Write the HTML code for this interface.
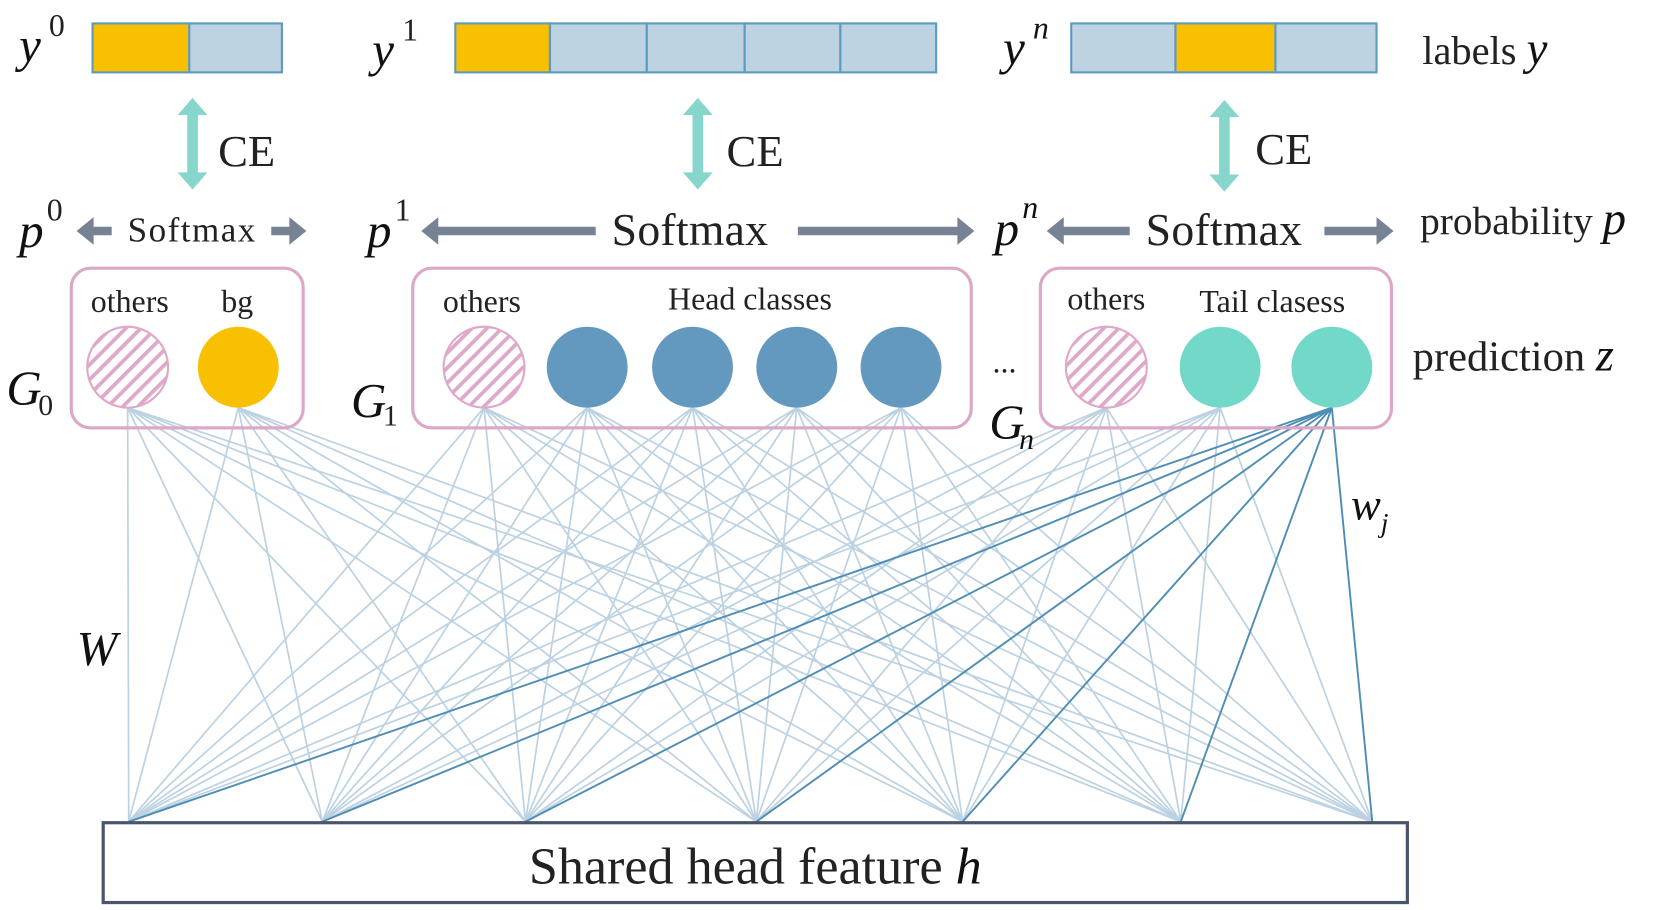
<!DOCTYPE html>
<html><head><meta charset="utf-8"><style>
html,body{margin:0;padding:0;background:#fff;width:1668px;height:910px;overflow:hidden}
svg{display:block}
text{font-family:"Liberation Serif","DejaVu Serif",serif;fill:#222}
.m{font-style:italic;fill:#111}
</style></head><body>
<svg width="1668" height="910" viewBox="0 0 1568 855" preserveAspectRatio="none" xmlns="http://www.w3.org/2000/svg" font-family="Liberation Serif, DejaVu Serif, serif">
<defs>
<pattern id="h" patternUnits="userSpaceOnUse" width="10" height="10" patternTransform="rotate(45)">
<rect width="10" height="10" fill="#fff"/><rect width="3.5" height="10" fill="#e0a8c8"/>
</pattern>
</defs>
<g stroke="#bcd2e2" stroke-width="1.6" fill="none">
<path d="M120 383L121 772M120 383L303 772M120 383L494 772M120 383L711 772M120 383L905 772M120 383L1110 772M120 383L1290 772"/>
<path d="M224 383L121 772M224 383L303 772M224 383L494 772M224 383L711 772M224 383L905 772M224 383L1110 772M224 383L1290 772"/>
<path d="M455 383L121 772M455 383L303 772M455 383L494 772M455 383L711 772M455 383L905 772M455 383L1110 772M455 383L1290 772"/>
<path d="M552 383L121 772M552 383L303 772M552 383L494 772M552 383L711 772M552 383L905 772M552 383L1110 772M552 383L1290 772"/>
<path d="M651 383L121 772M651 383L303 772M651 383L494 772M651 383L711 772M651 383L905 772M651 383L1110 772M651 383L1290 772"/>
<path d="M749 383L121 772M749 383L303 772M749 383L494 772M749 383L711 772M749 383L905 772M749 383L1110 772M749 383L1290 772"/>
<path d="M847 383L121 772M847 383L303 772M847 383L494 772M847 383L711 772M847 383L905 772M847 383L1110 772M847 383L1290 772"/>
<path d="M1040 383L121 772M1040 383L303 772M1040 383L494 772M1040 383L711 772M1040 383L905 772M1040 383L1110 772M1040 383L1290 772"/>
<path d="M1147 383L121 772M1147 383L303 772M1147 383L494 772M1147 383L711 772M1147 383L905 772M1147 383L1110 772M1147 383L1290 772"/>
</g>
<path stroke="#4f8db5" stroke-width="1.8" fill="none" d="M1252 383L121 772M1252 383L303 772M1252 383L494 772M1252 383L711 772M1252 383L905 772M1252 383L1110 772M1252 383L1290 772"/>

<g stroke="#5d9ac0" stroke-width="2">
<rect x="87" y="22" width="91" height="46" fill="#f8c000"/>
<rect x="178" y="22" width="87" height="46" fill="#bed3e2"/>
<rect x="428" y="22" width="89" height="46" fill="#f8c000"/>
<rect x="517" y="22" width="91" height="46" fill="#bed3e2"/>
<rect x="608" y="22" width="92" height="46" fill="#bed3e2"/>
<rect x="700" y="22" width="90" height="46" fill="#bed3e2"/>
<rect x="790" y="22" width="90" height="46" fill="#bed3e2"/>
<rect x="1007" y="22" width="98" height="46" fill="#bed3e2"/>
<rect x="1105" y="22" width="94" height="46" fill="#f8c000"/>
<rect x="1199" y="22" width="95" height="46" fill="#bed3e2"/>
</g>
<text class="m" x="18" y="58" font-size="46">y</text><text x="46" y="34" font-size="30" fill="#111">0</text>
<text class="m" x="350" y="62" font-size="46">y</text><text x="378" y="38" font-size="30" fill="#111">1</text>
<text class="m" x="943" y="60" font-size="46">y</text><text class="m" x="971" y="36" font-size="30">n</text>
<text x="1337" y="60" font-size="38">labels <tspan class="m" font-size="44">y</tspan></text>

<g fill="#86d6cc">
<path d="M181 92L195 108H186V162H195L181 178L167 162H176V108H167Z"/>
<path d="M656 92L670 108H661V162H670L656 178L642 162H651V108H642Z"/>
<path d="M1151 94L1165 110H1156V164H1165L1151 180L1137 164H1146V110H1137Z"/>
</g>
<text x="205" y="156" font-size="42">CE</text>
<text x="683" y="156" font-size="42">CE</text>
<text x="1180" y="154" font-size="42">CE</text>

<g fill="#778294">
<path d="M72 217L88 204V213H105V221H88V230Z"/>
<path d="M288 217L272 204V213H255V221H272V230Z"/>
<path d="M396 217L412 204V213H560V221H412V230Z"/>
<path d="M916 217L900 204V213H750V221H900V230Z"/>
<path d="M984 217L1000 204V213H1062V221H1000V230Z"/>
<path d="M1310 217L1294 204V213H1245V221H1294V230Z"/>
</g>
<text class="m" x="18" y="232" font-size="46">p</text><text x="44" y="207" font-size="30" fill="#111">0</text>
<text x="120" y="227" font-size="33" fill="#333" textLength="120">Softmax</text>
<text class="m" x="345" y="232" font-size="46">p</text><text x="371" y="207" font-size="30" fill="#111">1</text>
<text x="575" y="230" font-size="43" fill="#333" textLength="147">Softmax</text>
<text class="m" x="935" y="230" font-size="46">p</text><text class="m" x="961" y="205" font-size="30">n</text>
<text x="1077" y="230" font-size="43" fill="#333" textLength="147">Softmax</text>
<text x="1335" y="220" font-size="37">probability <tspan class="m" font-size="44">p</tspan></text>

<g fill="none" stroke="#dca8c8" stroke-width="3">
<rect x="67" y="252" width="218" height="150" rx="18"/>
<rect x="388" y="252" width="525" height="150" rx="18"/>
<rect x="978" y="252" width="330" height="150" rx="18"/>
</g>
<text x="122" y="293" font-size="30" text-anchor="middle">others</text>
<text x="223" y="293" font-size="30" text-anchor="middle">bg</text>
<text x="453" y="293" font-size="30" text-anchor="middle">others</text>
<text x="705" y="291" font-size="30" text-anchor="middle" fill="#333">Head classes</text>
<text x="1040" y="291" font-size="30" text-anchor="middle">others</text>
<text x="1196" y="293" font-size="30" text-anchor="middle" fill="#333">Tail clasess</text>

<g stroke="#e0a8c8" stroke-width="2" fill="url(#h)">
<circle cx="120" cy="345" r="38"/><circle cx="455" cy="345" r="38"/><circle cx="1040" cy="345" r="38"/>
</g>
<circle cx="224" cy="345" r="38" fill="#f8c000"/>
<g fill="#6399bf"><circle cx="552" cy="345" r="38"/><circle cx="651" cy="345" r="38"/><circle cx="749" cy="345" r="38"/><circle cx="847" cy="345" r="38"/></g>
<g fill="#72d8c8"><circle cx="1147" cy="345" r="38"/><circle cx="1252" cy="345" r="38"/></g>

<text class="m" x="6" y="380" font-size="46">G</text><text x="36" y="390" font-size="28" fill="#111">0</text>
<text class="m" x="330" y="392" font-size="46">G</text><text x="360" y="400" font-size="28" fill="#111">1</text>
<text class="m" x="930" y="412" font-size="46">G</text><text class="m" x="958" y="422" font-size="28">n</text>
<text x="933" y="350" font-size="30">...</text>
<text x="1328" y="348" font-size="40">prediction <tspan class="m" font-size="44">z</tspan></text>

<text class="m" x="72" y="625" font-size="46">W</text>
<text class="m" x="1270" y="488" font-size="42">w</text><text class="m" x="1298" y="500" font-size="26">j</text>

<rect x="97" y="773" width="1226" height="75" fill="#fff" stroke="#48566c" stroke-width="3"/>
<text x="710" y="830" font-size="49" text-anchor="middle" fill="#111">Shared head feature <tspan class="m">h</tspan></text>
</svg>
</body></html>
